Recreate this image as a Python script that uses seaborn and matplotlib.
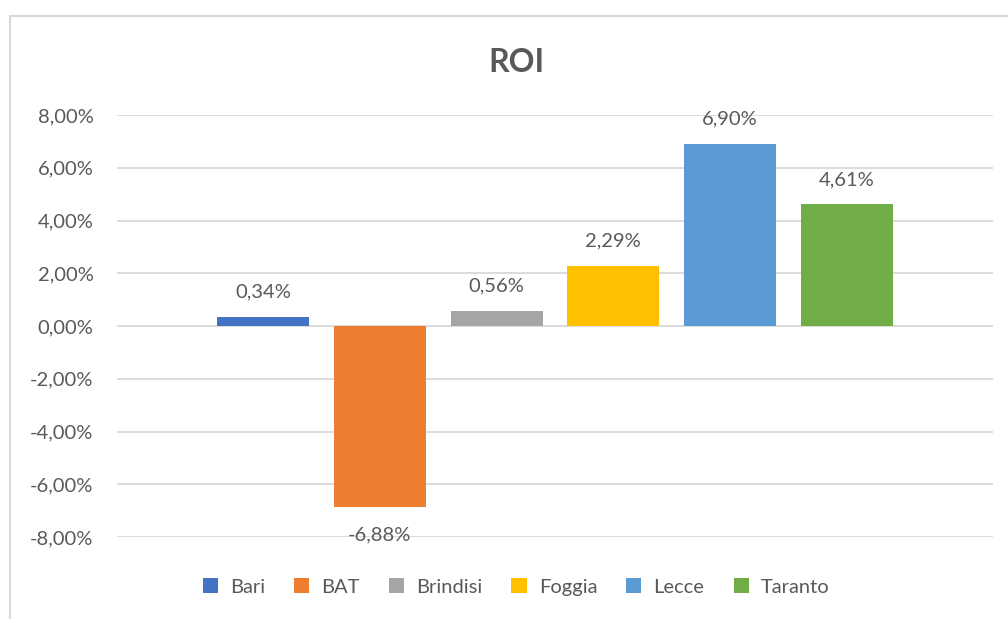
import matplotlib
matplotlib.use("Agg")
import matplotlib.pyplot as plt
import matplotlib.patches as mpatches
import seaborn as sns
import pandas as pd

# values (ROI in percent)
cities = ["Bari", "BAT", "Brindisi", "Foggia", "Lecce", "Taranto"]
roi = [0.34, -6.88, 0.56, 2.29, 6.90, 4.61]
colors = ["#4472C4", "#ED7D31", "#A5A5A5", "#FFC000", "#5B9BD5", "#70AD47"]
yticks = [-8, -6, -4, -2, 0, 2, 4, 6, 8]

TXT = "#595959"
FS = 14.5

sns.set_style("white")
plt.rcParams["font.family"] = ["Lato", "DejaVu Sans"]

df = pd.DataFrame({"city": cities, "roi": roi})

fig = plt.figure(figsize=(10.08, 6.19), dpi=100)
ax = fig.add_axes([117 / 1008, 1 - 537 / 619, 876 / 1008, 422 / 619])

sns.barplot(data=df, x="city", y="roi", hue="city", palette=colors,
            width=0.79, saturation=1, linewidth=0, legend=True, ax=ax)

ax.set_ylim(-8, 8)
ax.set_xlim(-1.252, 6.252)
ax.set_yticks(yticks)
ax.set_yticklabels([f"{v:.2f}%".replace(".", ",") for v in yticks],
                   fontsize=FS, color=TXT)
ax.tick_params(axis="y", length=0, pad=17)
ax.set_xticks([])
ax.set_xlabel("")
ax.set_ylabel("")
for s in ax.spines.values():
    s.set_visible(False)
ax.grid(axis="y", color="#D9D9D9", linewidth=1.3)
ax.set_axisbelow(True)

# data labels
for i, v in enumerate(roi):
    lab = f"{v:.2f}%".replace(".", ",")
    off = 18 if v >= 0 else -20
    ax.annotate(lab, (i, v), xytext=(0, off), textcoords="offset points",
                ha="center", va="center", fontsize=FS, color=TXT)

handles, labels = ax.get_legend_handles_labels()
for h in handles:
    h.set_linewidth(0)
ax.legend(handles, labels, loc="center", bbox_to_anchor=(516 / 1008, 1 - 587 / 619),
          bbox_transform=fig.transFigure, ncol=6, frameon=False,
          handlelength=0.75, handleheight=0.75, handletextpad=0.6,
          columnspacing=1.45, fontsize=FS, labelcolor=TXT)

fig.text(516 / 1008, 1 - 62 / 619, "ROI", ha="center", va="center",
         fontsize=23, fontweight="bold", color=TXT)

# chart area border
fig.patches.append(mpatches.Rectangle((10 / 1008, -0.1), 1.1, 1 - 16 / 619 + 0.1,
                                      transform=fig.transFigure, fill=False,
                                      edgecolor="#D9D9D9", linewidth=1.5))

fig.savefig("out.png", dpi=100)
